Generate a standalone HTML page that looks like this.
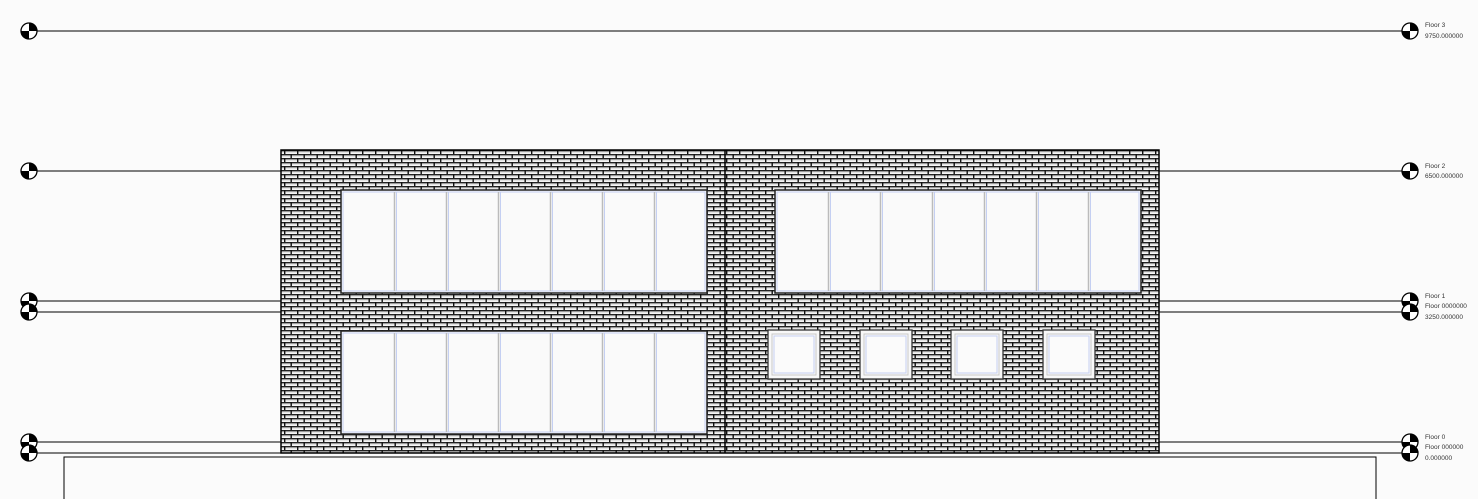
<!DOCTYPE html>
<html><head><style>html,body{margin:0;padding:0;background:#fbfbfb;}svg{display:block}</style></head>
<body>
<svg width="1478" height="499" viewBox="0 0 1478 499" xmlns="http://www.w3.org/2000/svg" font-family="Liberation Sans, sans-serif">
<defs>
<pattern id="brick" x="281" y="150" width="13" height="8" patternUnits="userSpaceOnUse">
<rect width="13" height="8" fill="#f6f6f6"/>
<rect y="0" width="13" height="1.2" fill="#222"/>
<rect y="4" width="13" height="1.2" fill="#222"/>
<rect y="1.2" width="13" height="1" fill="#999"/>
<rect y="5.2" width="13" height="1" fill="#999"/>
<rect x="3" y="0" width="1.4" height="4" fill="#111"/>
<rect x="9.5" y="4" width="1.4" height="4" fill="#111"/>
</pattern>
<g id="mk">
<circle r="8" fill="#fff" stroke="#000" stroke-width="1.3"/>
<path d="M0 0 L0 -8 A8 8 0 0 1 8 0 Z" fill="#000"/>
<path d="M0 0 L0 8 A8 8 0 0 1 -8 0 Z" fill="#000"/>
</g>
</defs>
<rect x="64" y="457" width="1312" height="50" fill="none" stroke="#000" stroke-width="1"/>
<rect x="281" y="150" width="878" height="303" fill="url(#brick)" stroke="#000" stroke-width="1.5"/>
<line x1="725" y1="150" x2="725" y2="453" stroke="#000" stroke-width="1.5"/>
<g stroke="#000" stroke-width="1">
<line x1="29" y1="31" x2="1410" y2="31"/>
<line x1="29" y1="171" x2="281" y2="171"/><line x1="1159" y1="171" x2="1410" y2="171"/>
<line x1="29" y1="301" x2="281" y2="301"/><line x1="1159" y1="301" x2="1410" y2="301"/>
<line x1="29" y1="312" x2="281" y2="312"/><line x1="1159" y1="312" x2="1410" y2="312"/>
<line x1="29" y1="442" x2="281" y2="442"/><line x1="1159" y1="442" x2="1410" y2="442"/>
<line x1="29" y1="453" x2="281" y2="453"/><line x1="1159" y1="453" x2="1410" y2="453"/>
</g>
<g>
<use href="#mk" x="29" y="31"/><use href="#mk" x="1410" y="31"/>
<use href="#mk" x="29" y="171"/><use href="#mk" x="1410" y="171"/>
<use href="#mk" x="29" y="301"/><use href="#mk" x="1410" y="301"/>
<use href="#mk" x="29" y="312"/><use href="#mk" x="1410" y="312"/>
<use href="#mk" x="29" y="442"/><use href="#mk" x="1410" y="442"/>
<use href="#mk" x="29" y="453"/><use href="#mk" x="1410" y="453"/>
</g>
<g font-size="6.5" fill="#333">
<text x="1425" y="27">Floor 3</text><text x="1425" y="38">9750.000000</text>
<text x="1425" y="168">Floor 2</text><text x="1425" y="178">6500.000000</text>
<text x="1425" y="298">Floor 1</text><text x="1425" y="308">Floor 0000000</text><text x="1425" y="319">3250.000000</text>
<text x="1425" y="439">Floor 0</text><text x="1425" y="449">Floor 000000</text><text x="1425" y="460">0.000000</text>
</g>
<g id="bw">
<rect x="341" y="190" width="366" height="103" fill="#fafafa" stroke="#222" stroke-width="1.5"/>
<rect x="343" y="192" width="362" height="99" fill="none" stroke="#c4cff2" stroke-width="1"/>
<g stroke="#bbb" stroke-width="1.5">
<line x1="394.5" y1="192" x2="394.5" y2="291"/><line x1="446.5" y1="192" x2="446.5" y2="291"/>
<line x1="498.5" y1="192" x2="498.5" y2="291"/><line x1="550.5" y1="192" x2="550.5" y2="291"/>
<line x1="602.5" y1="192" x2="602.5" y2="291"/><line x1="654.5" y1="192" x2="654.5" y2="291"/>
</g>
<g stroke="#c4cff2" stroke-width="1">
<line x1="396.5" y1="192" x2="396.5" y2="291"/><line x1="448.5" y1="192" x2="448.5" y2="291"/>
<line x1="500.5" y1="192" x2="500.5" y2="291"/><line x1="552.5" y1="192" x2="552.5" y2="291"/>
<line x1="604.5" y1="192" x2="604.5" y2="291"/><line x1="656.5" y1="192" x2="656.5" y2="291"/>
</g>
</g>
<use href="#bw" x="434" y="0"/>
<use href="#bw" x="0" y="141"/>
<g id="sw">
<rect x="768" y="330" width="52" height="49" fill="#f8f8f8" stroke="#333" stroke-width="1.3"/>
<rect x="772" y="334" width="44" height="41" fill="#fafafa" stroke="#c8c8c8" stroke-width="1"/>
<rect x="774" y="336" width="40" height="37" fill="#fbfbfb" stroke="#c4cff2" stroke-width="1"/>
</g>
<use href="#sw" x="92" y="0"/>
<use href="#sw" x="183" y="0"/>
<use href="#sw" x="275" y="0"/>
</svg>
</body></html>
